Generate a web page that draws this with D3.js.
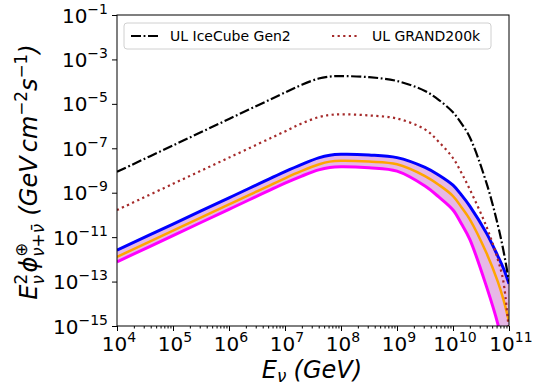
<!DOCTYPE html>
<html>
<head>
<meta charset="utf-8">
<script src="https://cdn.jsdelivr.net/npm/d3@7"></script>
<style>
  body { margin: 0; background: #fff; }
  svg { display: block; font-family: "DejaVu Sans", sans-serif; }
</style>
</head>
<body>
<svg id="chart" width="547" height="385"></svg>
<script>
// log10 of neutrino energy (GeV)
const logEnergy = [4, 5, 6, 7, 7.3, 7.6, 7.8, 8, 8.5, 9, 9.5, 9.75, 10, 10.15, 10.3, 10.6, 10.8, 10.9, 11];

// log10 of E^2 * flux (GeV cm^-2 s^-1)
const ulIceCubeGen2 = [-8.06, -6.87, -5.68, -4.49, -4.14, -3.86, -3.77, -3.75, -3.80, -3.97, -4.42, -4.83, -5.38, -5.88, -6.5, -8.58, -10.45, -11.6, -13.0];
const ulGrand200k   = [-9.78, -8.6, -7.42, -6.24, -5.88, -5.6, -5.5, -5.47, -5.52, -5.66, -6.15, -6.72, -7.44, -8.1, -8.85, -10.54, -12.0, -13.0, -15.3];
const fluxUpper     = [-11.59, -10.41, -9.23, -8.05, -7.72, -7.43, -7.31, -7.27, -7.3, -7.42, -7.86, -8.21, -8.66, -9.1, -9.6, -10.83, -11.85, -12.4, -13.1];
const fluxMedian    = [-11.89, -10.71, -9.53, -8.35, -8.02, -7.73, -7.6, -7.56, -7.6, -7.72, -8.25, -8.65, -9.15, -9.65, -10.2, -11.73, -13.0, -13.8, -14.8];
const fluxLower     = [-12.11, -10.93, -9.75, -8.57, -8.25, -7.97, -7.86, -7.83, -7.88, -8.03, -8.7, -9.2, -9.78, -10.4, -11.1, -13.24, -14.9, -16.0, -17.5];

const xTickExps = [4, 5, 6, 7, 8, 9, 10, 11];
const yTickExps = [-1, -3, -5, -7, -9, -11, -13, -15];

const legendLabels = ['UL IceCube Gen2', 'UL GRAND200k'];

const mLeft = 117, mRight = 509, mTop = 15, mBottom = 326;

const svg = d3.select('#chart');

const x = d3.scaleLog().domain([1e4, 1e11]).range([mLeft, mRight]);
const y = d3.scaleLog().domain([1e-15, 1e-1]).range([mBottom, mTop]);

const pts = arr => arr.map((v, i) => [Math.pow(10, logEnergy[i]), Math.pow(10, v)]);

svg.append('defs').append('clipPath').attr('id', 'plotClip')
  .append('rect').attr('x', mLeft).attr('y', mTop)
  .attr('width', mRight - mLeft).attr('height', mBottom - mTop);

const plot = svg.append('g').attr('clip-path', 'url(#plotClip)');

const smooth = d3.curveCatmullRom.alpha(0.5);

const line = d3.line()
  .x(d => x(d[0]))
  .y(d => y(d[1]))
  .curve(smooth);

// uncertainty band between upper and lower curves
const band = d3.area()
  .x((d, i) => x(Math.pow(10, logEnergy[i])))
  .y0((d, i) => y(Math.pow(10, fluxLower[i])))
  .y1((d, i) => y(Math.pow(10, fluxUpper[i])))
  .curve(smooth);

plot.append('path')
  .datum(logEnergy)
  .attr('d', band)
  .attr('fill', 'plum')
  .attr('fill-opacity', 0.75);

plot.append('path').datum(pts(fluxUpper)).attr('d', line)
  .attr('fill', 'none').attr('stroke', 'blue').attr('stroke-width', 3);
plot.append('path').datum(pts(fluxLower)).attr('d', line)
  .attr('fill', 'none').attr('stroke', 'magenta').attr('stroke-width', 3);
plot.append('path').datum(pts(fluxMedian)).attr('d', line)
  .attr('fill', 'none').attr('stroke', 'orange').attr('stroke-width', 2.5);

plot.append('path').datum(pts(ulGrand200k)).attr('d', line)
  .attr('fill', 'none').attr('stroke', 'brown').attr('stroke-width', 2.2)
  .attr('stroke-dasharray', '2.2,3.4');
plot.append('path').datum(pts(ulIceCubeGen2)).attr('d', line)
  .attr('fill', 'none').attr('stroke', 'black').attr('stroke-width', 2.2)
  .attr('stroke-dasharray', '10,2.6,1.8,2.6');

// axes: major + minor ticks on x, majors only on y
const xMinor = [];
for (let e = 4; e < 11; e++) for (let m = 2; m <= 9; m++) xMinor.push(m * Math.pow(10, e));

svg.append('g').attr('transform', `translate(0,${mBottom})`)
  .call(d3.axisBottom(x).tickValues(xMinor).tickSize(2.5).tickFormat(''))
  .call(g => g.select('.domain').remove());
svg.append('g').attr('transform', `translate(0,${mBottom})`)
  .call(d3.axisBottom(x).tickValues(xTickExps.map(e => Math.pow(10, e))).tickSize(5).tickFormat(''))
  .call(g => g.select('.domain').remove());
svg.append('g').attr('transform', `translate(${mLeft},0)`)
  .call(d3.axisLeft(y).tickValues(yTickExps.map(e => Math.pow(10, e))).tickSize(5).tickFormat(''))
  .call(g => g.select('.domain').remove());

svg.selectAll('.tick line').attr('stroke', '#000').attr('stroke-width', 1);

// frame
svg.append('rect')
  .attr('x', mLeft).attr('y', mTop)
  .attr('width', mRight - mLeft).attr('height', mBottom - mTop)
  .attr('fill', 'none').attr('stroke', '#000').attr('stroke-width', 1);

// tick labels
const tickFs = 20;
function powLabel(sel, exp) {
  sel.append('tspan').text('10');
  sel.append('tspan').attr('dy', -0.45 * tickFs).attr('font-size', tickFs * 0.7)
    .text(String(exp).replace('-', '\u2212'));
}
xTickExps.forEach(e => {
  const t = svg.append('text')
    .attr('x', x(Math.pow(10, e)) + 2).attr('y', 351)
    .attr('text-anchor', 'middle').attr('font-size', tickFs).attr('fill', '#000');
  powLabel(t, e);
});
yTickExps.forEach(e => {
  const t = svg.append('text')
    .attr('x', 108).attr('y', y(Math.pow(10, e)) + 7.5)
    .attr('text-anchor', 'end').attr('font-size', tickFs).attr('fill', '#000');
  powLabel(t, e);
});

// math-style label: pieces along a baseline; scripts stack after their base
function mathLabel(g, parts, fs) {
  let cx = 0, scriptStart = 0;
  parts.forEach(p => {
    const px = p.stack ? scriptStart : cx + (p.gap || 0) * fs;
    const t = g.append('text')
      .attr('x', px).attr('y', (p.dy || 0) * fs)
      .attr('font-size', fs * (p.s || 1))
      .attr('font-style', p.it ? 'italic' : 'normal')
      .attr('fill', '#000')
      .style('white-space', 'pre')
      .text(p.t);
    const w = t.node().getComputedTextLength();
    if (!p.s) scriptStart = px + w;
    cx = p.stack ? Math.max(cx, px + w) : px + w;
  });
  return cx;
}

const labelFs = 24;

// y axis label
const yl = svg.append('g');
const yw = mathLabel(yl, [
  { t: 'E', it: 1 },
  { t: '2', s: 0.7, dy: -0.42 },
  { t: '\u03BD', s: 0.7, dy: 0.28, it: 1, stack: 1 },
  { t: '\u03D5', it: 1, gap: 0.05 },
  { t: '\u2295', s: 0.7, dy: -0.42 },
  { t: '\u03BD+\u03BD\u0304', s: 0.7, dy: 0.3, it: 1, stack: 1 },
  { t: '(GeV', it: 1, gap: 0.35 },
  { t: 'cm', it: 1, gap: 0.17 },
  { t: '\u22122', s: 0.7, dy: -0.42 },
  { t: 's', it: 1 },
  { t: '\u22121', s: 0.7, dy: -0.42 },
  { t: ')', it: 1 }
], labelFs);
yl.attr('transform', `translate(37,${172 + yw / 2}) rotate(-90)`);

// x axis label
const xl = svg.append('g');
const xw = mathLabel(xl, [
  { t: 'E', it: 1 },
  { t: '\u03BD', s: 0.7, dy: 0.15, it: 1 },
  { t: '(GeV)', it: 1, gap: 0.3 }
], labelFs);
xl.attr('transform', `translate(${312 - xw / 2},378)`);

// legend
const lg = svg.append('g');
lg.append('rect')
  .attr('x', 124).attr('y', 23).attr('width', 367).attr('height', 26)
  .attr('rx', 3).attr('fill', '#fff').attr('fill-opacity', 0.8)
  .attr('stroke', '#d0d0d0').attr('stroke-width', 1);
const legendStyles = [
  { stroke: 'black', dash: '10,2.6,1.8,2.6', x0: 131, tx: 170 },
  { stroke: 'brown', dash: '2.2,3.4', x0: 332, tx: 372 }
];
legendLabels.forEach((lab, i) => {
  const st = legendStyles[i];
  lg.append('line')
    .attr('x1', st.x0).attr('x2', st.x0 + 28).attr('y1', 36).attr('y2', 36)
    .attr('stroke', st.stroke).attr('stroke-width', 2)
    .attr('stroke-dasharray', st.dash);
  lg.append('text')
    .attr('x', st.tx).attr('y', 41)
    .attr('font-size', 14).attr('fill', '#000')
    .text(lab);
});
</script>
</body>
</html>
